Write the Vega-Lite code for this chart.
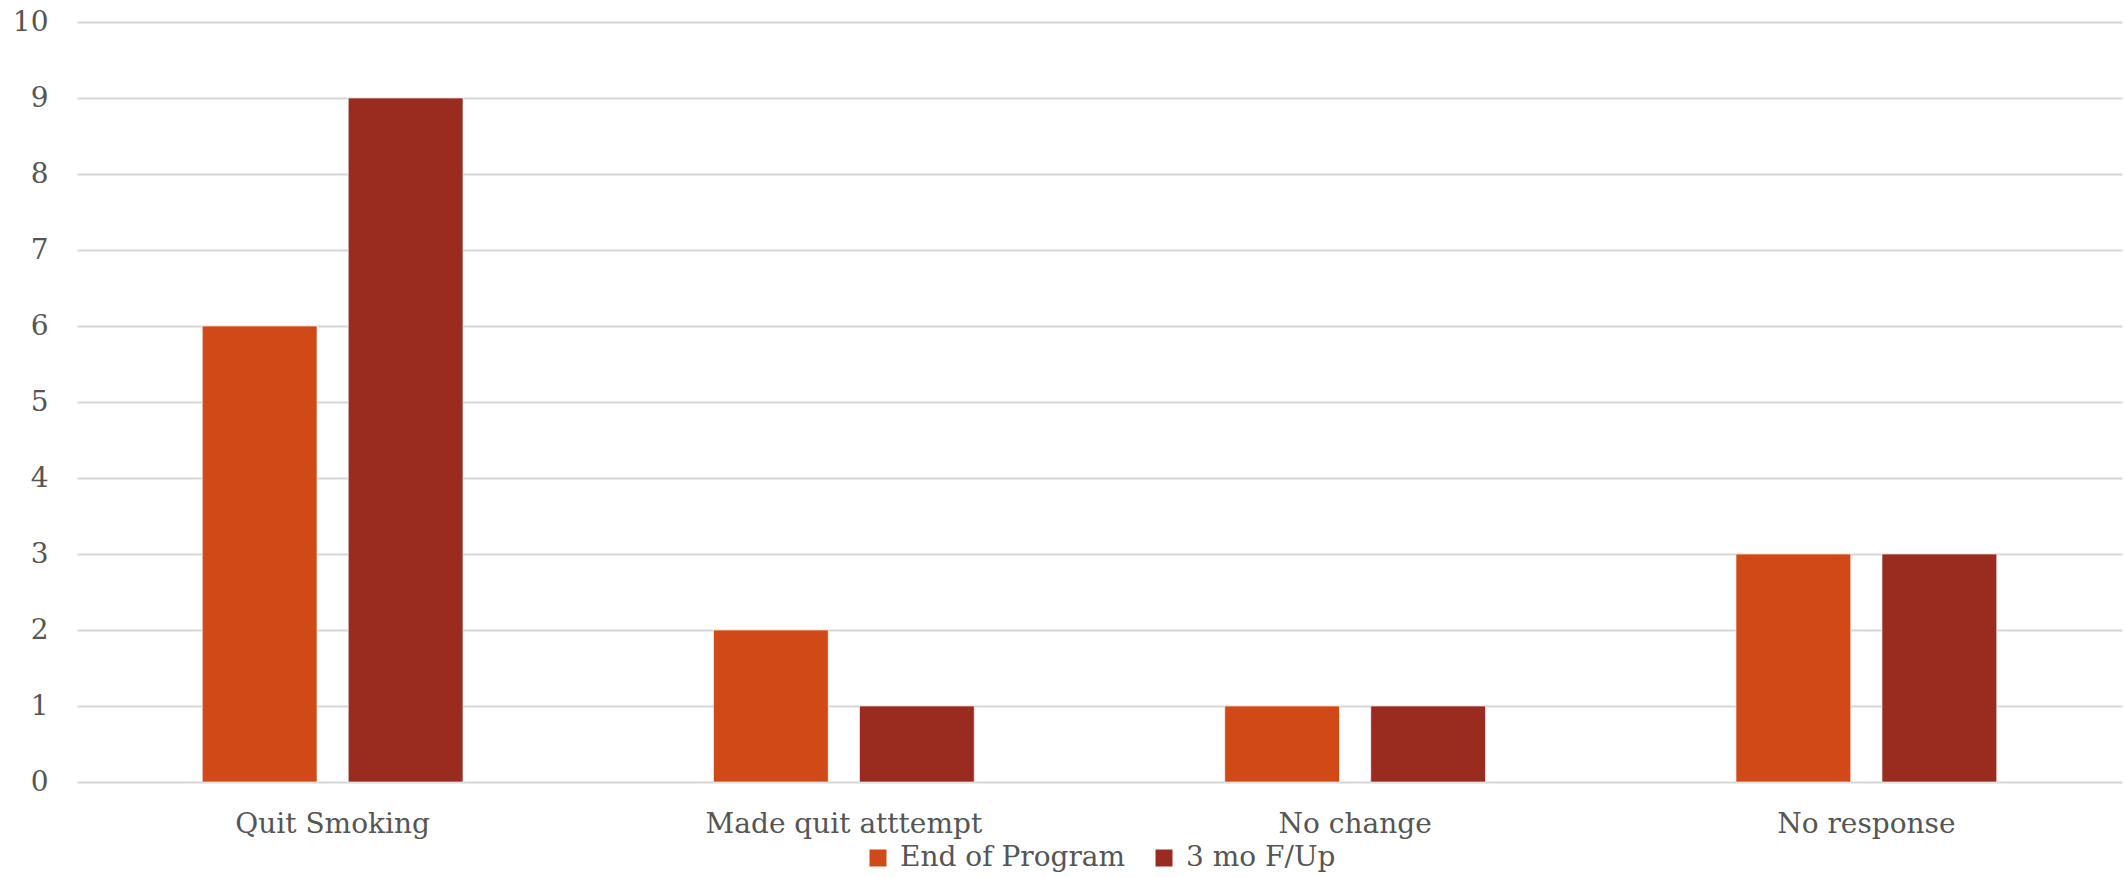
{
  "$schema": "https://vega.github.io/schema/vega-lite/v6.json",
  "width": 2045,
  "height": 760,
  "autosize": {"type": "none"},
  "padding": {"left": 77, "top": 22, "right": 2, "bottom": 95},
  "background": "white",
  "data": {
    "values": [
      {"category": "Quit Smoking", "series": "End of Program", "count": 6},
      {"category": "Quit Smoking", "series": "3 mo F/Up", "count": 9},
      {"category": "Made quit atttempt", "series": "End of Program", "count": 2},
      {"category": "Made quit atttempt", "series": "3 mo F/Up", "count": 1},
      {"category": "No change", "series": "End of Program", "count": 1},
      {"category": "No change", "series": "3 mo F/Up", "count": 1},
      {"category": "No response", "series": "End of Program", "count": 3},
      {"category": "No response", "series": "3 mo F/Up", "count": 3}
    ]
  },
  "mark": {"type": "bar", "stroke": "white", "strokeWidth": 1, "strokeOpacity": 0.6},
  "encoding": {
    "x": {
      "field": "category",
      "type": "nominal",
      "sort": ["Quit Smoking", "Made quit atttempt", "No change", "No response"],
      "scale": {"paddingInner": 0.49, "paddingOuter": 0.245},
      "axis": {
        "title": null,
        "labelAngle": 0,
        "labelLimit": 0,
        "labelOverlap": false,
        "domain": false,
        "ticks": false,
        "labelPadding": 28,
        "labelFont": "DejaVu Serif",
        "labelFontSize": 28,
        "labelColor": "#555555"
      }
    },
    "xOffset": {
      "field": "series",
      "type": "nominal",
      "sort": ["End of Program", "3 mo F/Up"],
      "scale": {"paddingInner": 0.214, "paddingOuter": 0}
    },
    "y": {
      "field": "count",
      "type": "quantitative",
      "scale": {"domain": [0, 10], "nice": false},
      "axis": {
        "title": null,
        "values": [0, 1, 2, 3, 4, 5, 6, 7, 8, 9, 10],
        "labelOverlap": false,
        "labelLimit": 0,
        "domain": false,
        "ticks": false,
        "labelPadding": 29,
        "labelFont": "DejaVu Serif",
        "labelFontSize": 28,
        "labelColor": "#555555",
        "gridColor": "#d6d6d6",
        "gridWidth": 1.8
      }
    },
    "color": {
      "field": "series",
      "type": "nominal",
      "sort": ["End of Program", "3 mo F/Up"],
      "scale": {"domain": ["End of Program", "3 mo F/Up"], "range": ["#d14917", "#9a2b1f"]},
      "legend": {
        "title": null,
        "orient": "bottom",
        "direction": "horizontal",
        "symbolType": "square",
        "symbolSize": 289,
        "symbolStrokeWidth": 0,
        "labelFont": "DejaVu Serif",
        "labelFontSize": 28,
        "labelColor": "#555555",
        "labelLimit": 0,
        "labelOffset": 8,
        "columnPadding": 24,
        "offset": 6
      }
    }
  },
  "config": {
    "view": {"stroke": null},
    "legend": {"layout": {"bottom": {"anchor": "middle"}}}
  }
}
